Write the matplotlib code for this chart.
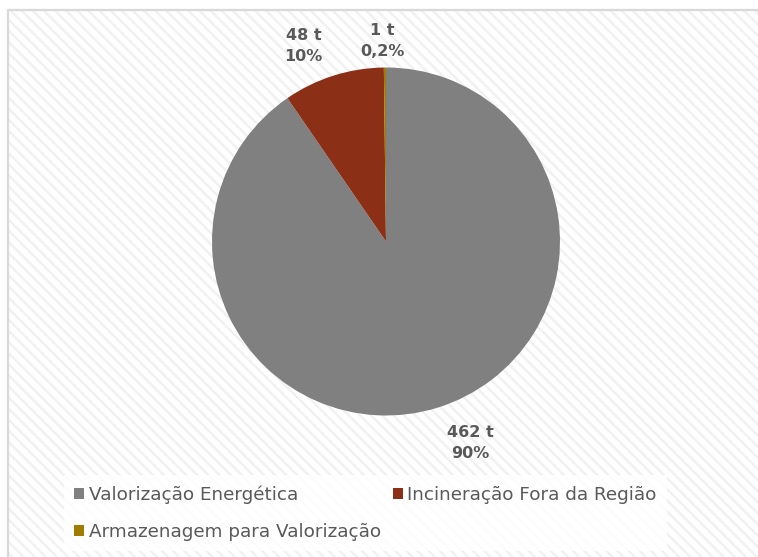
import matplotlib
matplotlib.use("Agg")
import matplotlib.pyplot as plt
import matplotlib.transforms as mtransforms
from matplotlib.patches import Rectangle

categorias = ["Valorização Energética", "Incineração Fora da Região", "Armazenagem para Valorização"]
toneladas = [462, 48, 1]
rotulos = ["462 t\n90%", "48 t\n10%", "1 t\n0,2%"]
cores = ["#808080", "#8b2f16", "#a07c00"]

W, H = 758, 557
plt.rcParams["font.family"] = ["DejaVu Sans"]
plt.rcParams["hatch.linewidth"] = 1.8
texto = "#595959"

fig = plt.figure(figsize=(W / 100, H / 100), dpi=100)
fig.patch.set_facecolor("white")

# fundo riscado da area do grafico
fundo = Rectangle((8 / W, 0), 1, 1 - 10 / H, transform=fig.transFigure,
                  facecolor="white", edgecolor="#f1f1f1", hatch="\\\\\\", linewidth=0, zorder=-3)
fig.patches.append(fundo)
moldura = Rectangle((8 / W, -0.01), 1.1, 1.01 - 10 / H, transform=fig.transFigure,
                    facecolor="none", edgecolor="#d9d9d9", linewidth=1.6, zorder=-2)
fig.patches.append(moldura)

cx, cy, r = 386, H - 241.5, 174
ax = fig.add_axes([(cx - r) / W, (cy - r) / H, 2 * r / W, 2 * r / H])
ax.set_facecolor("none")
wedges, labels = ax.pie(toneladas, labels=rotulos, colors=cores, startangle=90,
                        counterclock=False, labeldistance=1.22, radius=1,
                        wedgeprops=dict(linewidth=0),
                        textprops=dict(color=texto, fontsize=11.5, fontweight="bold"))
# pequenos ajustes dos rotulos (pixels)
ajustes = [(21, 1), (-18, -7), (-2, -12)]
for t, (dx, dy) in zip(labels, ajustes):
    t.set_horizontalalignment("center")
    t.set_verticalalignment("center")
    t.set_multialignment("center")
    t.set_linespacing(1.5)
    t.set_transform(mtransforms.offset_copy(t.get_transform(), fig=fig, x=dx, y=dy, units="dots"))
ax.set_xlim(-1, 1)
ax.set_ylim(-1, 1)
ax.set_aspect("equal")

# legenda em duas colunas, preenchida por linha
ordem = [0, 2, 1]
leg = fig.legend([wedges[i] for i in ordem], [categorias[i] for i in ordem],
                 loc="upper left", bbox_to_anchor=(64 / W, 1 - 475 / H), ncol=2,
                 fontsize=13.2, frameon=True, fancybox=False,
                 handlelength=0.55, handleheight=0.55, handletextpad=0.25,
                 columnspacing=0.65, labelspacing=1.05, borderpad=0.55,
                 borderaxespad=0)
leg.get_frame().set_facecolor("white")
leg.get_frame().set_alpha(0.85)
leg.get_frame().set_linewidth(0)
for t in leg.get_texts():
    t.set_color(texto)

fig.savefig("out.png", dpi=100)
